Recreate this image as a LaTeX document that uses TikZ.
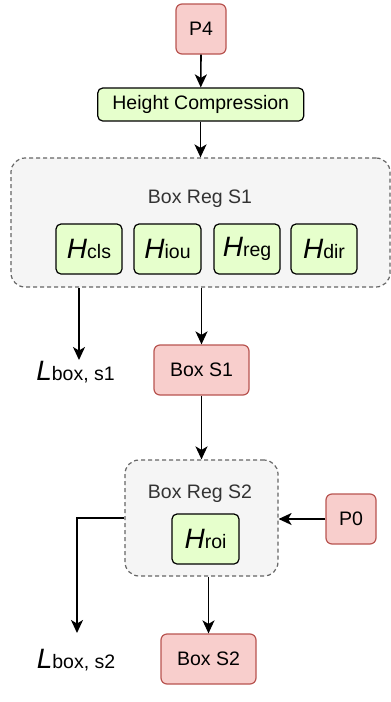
\documentclass[tikz,border=0pt]{standalone}
\usepackage{fontspec}
\setmainfont{Liberation Sans}
\usetikzlibrary{arrows.meta}
\definecolor{redfill}{HTML}{F8CECC}
\definecolor{redline}{HTML}{B85450}
\definecolor{greenfill}{HTML}{E6FFCC}
\definecolor{greyfill}{HTML}{F5F5F5}
\definecolor{greyline}{HTML}{666666}
\definecolor{labeltext}{HTML}{333333}
\newcommand\hlab[2]{{\fontsize{28}{28}\selectfont\itshape #1}#2}
\tikzset{
  base/.style={rectangle, inner sep=0pt, line width=1.2pt, align=center,
    font=\fontsize{19.5}{22}\selectfont},
  redbox/.style={base, draw=redline, fill=redfill, rounded corners=6pt},
  greenbox/.style={base, draw=black, fill=greenfill, rounded corners=5pt},
  group/.style={base, draw=greyline, fill=greyfill, dashed, dash pattern=on 4pt off 3pt, rounded corners=14pt},
  grouplabel/.style={base, text=labeltext},
  plain/.style={base},
  arr/.style={line width=1.6pt, -{Stealth[length=13pt,width=12pt,inset=3.5pt]}},
}
\begin{document}
\begin{tikzpicture}[x=1pt,y=-1pt]
\useasboundingbox (0,0) rectangle (391,702);
% top
\node[redbox, minimum width=50pt, minimum height=50pt] (P4) at (201,29) {P4};
\node[greenbox, minimum width=206pt, minimum height=33pt] (HC) at (200.75,104.5) {Height Compression};
% group 1
\node[group, minimum width=379pt, minimum height=129pt] (BRS1) at (200.5,222.5) {};
\node[grouplabel] (BRS1lab) at (200,199) {Box Reg S1};
\node[greenbox, minimum width=66pt, minimum height=50pt] (Hcls) at (89,249) {\hlab{H}{cls}};
\node[greenbox, minimum width=67pt, minimum height=50pt] (Hiou) at (167.5,249) {\hlab{H}{iou}};
\node[greenbox, minimum width=66pt, minimum height=50pt] (Hreg) at (247,249) {\hlab{H}{reg}};
\node[greenbox, minimum width=66pt, minimum height=50pt] (Hdir) at (324,249) {\hlab{H}{dir}};
% outputs of group 1
\node[plain] (L1) at (75.5,372) {\hlab{L}{box, s1}};
\node[redbox, minimum width=95pt, minimum height=50pt] (BoxS1) at (201.5,370) {Box S1};
% group 2
\node[group, minimum width=153pt, minimum height=116pt] (BRS2) at (201.5,518) {};
\node[grouplabel] (BRS2lab) at (200,494) {Box Reg S2};
\node[greenbox, minimum width=67pt, minimum height=50pt] (Hroi) at (205.5,539) {\hlab{H}{roi}};
\node[redbox, minimum width=50pt, minimum height=50pt] (P0) at (351,519) {P0};
\node[plain] (L2) at (76,660) {\hlab{L}{box, s2}};
\node[redbox, minimum width=95pt, minimum height=50pt] (BoxS2) at (208.5,659) {Box S2};
% connectors
\coordinate (t1) at (79,360);
\coordinate (t2) at (77,633);
\draw[arr] (P4.south) -- (HC.north);
\draw[arr] (HC.south -| BRS1.north) -- (BRS1.north);
\draw[arr] (BRS1.south -| t1) -- (t1);
\draw[arr] (BRS1.south -| BoxS1.north) -- (BoxS1.north);
\draw[arr] (BoxS1.south) -- (BRS2.north);
\draw[arr] (P0.west) -- (BRS2.east |- P0.west);
\draw[arr] (BRS2.west) -| (t2);
\draw[arr] (BRS2.south -| BoxS2.north) -- (BoxS2.north);
\end{tikzpicture}
\end{document}
